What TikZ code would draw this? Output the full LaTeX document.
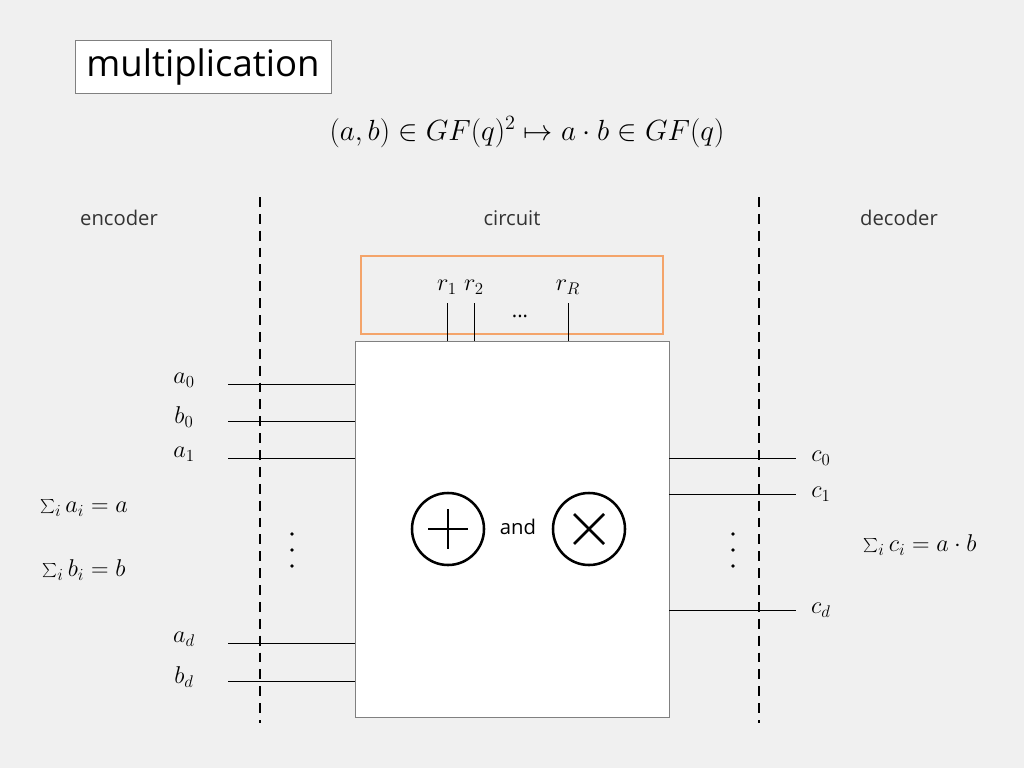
\documentclass[tikz,border=0pt]{standalone}
\usepackage{fontspec}
\setmainfont{Open Sans}
\usetikzlibrary{positioning}
\definecolor{bg}{HTML}{F0F0F0}
\definecolor{boxorange}{HTML}{F4A46A}
\tikzset{
  wire/.style={draw=black, line width=0.5pt},
  sep/.style={draw=black, line width=1.6pt, dash pattern=on 7pt off 5pt},
  lbl/.style={font=\Large},
  mlbl/.style={font=\LARGE},
  opcirc/.style={circle, draw=black, line width=1.8pt, minimum size=1.8cm, inner sep=0pt}
}
\begin{document}
\begin{tikzpicture}[x=0.025cm, y=-0.025cm]
\fill[bg] (0,0) rectangle (1024,768);
\useasboundingbox (0,0) rectangle (1024,768);

% titre
\node[draw=gray, fill=white, minimum width=6.4cm, minimum height=1.33cm, font=\fontsize{26}{30}\selectfont] (title) at (203,67) {multiplication};
\node[font=\huge] (formula) at (527,132) {$(a,b)\in GF(q)^2\mapsto a\cdot b\in GF(q)$};

% parties
\node[lbl, text=black!80] (enc) at (119,218) {encoder};
\node[lbl, text=black!80] (circ) at (512,218) {circuit};
\node[lbl, text=black!80] (dec) at (899,218) {decoder};
\draw[sep] (260,197) -- (260,723);
\draw[sep] (759,197) -- (759,723);

% aléas
\draw[boxorange, line width=1.6pt] (361,256) rectangle (663,334);
\node[draw=gray, fill=white, minimum width=7.85cm, minimum height=9.4cm] (box) at (512,529) {};
\foreach \x/\t in {447/r_1, 474/r_2, 568/r_R} {
  \coordinate (r\x) at (\x,303);
  \draw[wire] (r\x) -- (\x,341);
  \node[mlbl] at (\x,287) {$\t$};
}
\node[lbl] (dots) at (520,316) {...};

% entrées
\foreach \y/\t in {384/a_0, 421/b_0, 458/a_1, 643/a_d, 681/b_d} {
  \coordinate (in\y) at (228,\y);
  \draw[wire] (in\y) -- (355,\y);
  \node[mlbl] at (184,\y-4) {$\t$};
}
% sorties
\foreach \y/\t in {458/c_0, 494/c_1, 610/c_d} {
  \coordinate (out\y) at (796,\y);
  \draw[wire] (669,\y) -- (out\y);
  \node[mlbl] at (821,\y) {$\t$};
}
\foreach \x in {292,733}
  \foreach \y in {534,550,566}
    \fill (\x,\y) circle (1.3pt);

\node[mlbl] (suma) at (84,508) {$\sum_i a_i=a$};
\node[mlbl] (sumb) at (84,570) {$\sum_i b_i=b$};
\node[mlbl] (sumc) at (920,545) {$\sum_i c_i=a\cdot b$};

% opérations
\node[opcirc] (plus) at (448,529) {};
\draw[line width=1.8pt] (plus.center) ++(-20,0) -- ++(40,0) (plus.center) ++(0,-20) -- ++(0,40);
\node[opcirc] (times) at (589,529) {};
\draw[line width=1.8pt] (times.center) ++(-15,-15) -- ++(30,30) (times.center) ++(15,-15) -- ++(-30,30);
\node[lbl] (and) at (518,527) {and};
\end{tikzpicture}
\end{document}
